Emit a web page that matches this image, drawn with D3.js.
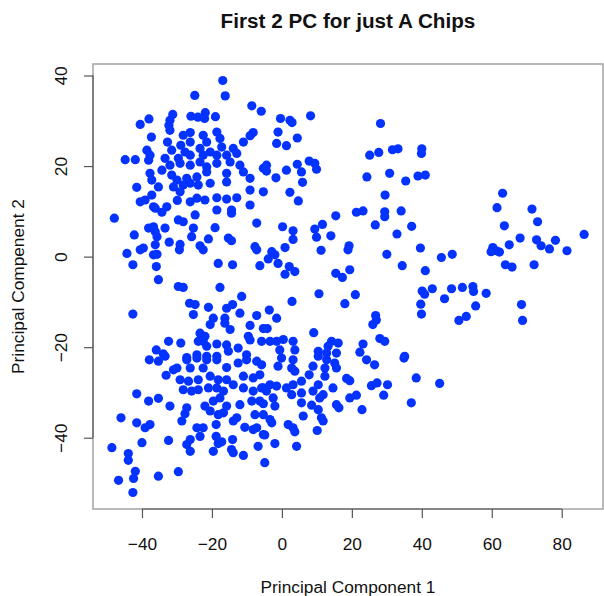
<!DOCTYPE html>
<html>
<head>
<meta charset="utf-8">
<script src="https://cdn.jsdelivr.net/npm/d3@7"></script>
<style>
  html, body { margin: 0; padding: 0; background: #fff; }
  svg { display: block; }
  text { font-family: "Liberation Sans", Arial, Helvetica, sans-serif; fill: #111; }
</style>
</head>
<body>
<svg id="chart" width="604" height="596"></svg>
<script>
// Scores on the first two principal components, one entry per A chip
const pc1 = [
  -16.9,-24.9,-16.2,-8.6,-5.9,-40.5,-38.0,-31.2,-32.0,-32.3,
  -26.0,-24.0,-21.9,-22.1,-19.0,-37.3,-32.0,-28.2,-26.2,-22.5,
  -18.6,-17.7,-8.2,-9.1,-11.0,-32.7,-28.9,-26.2,-21.5,-38.6,
  -31.5,-27.7,-23.4,-20.5,-17.2,-13.9,-44.8,-41.9,-37.7,-38.1,
  -33.4,-29.6,-26.2,-22.5,-18.6,-15.8,-12.9,-34.3,-32.0,-29.1,
  -26.2,-23.4,-21.5,-18.6,-14.8,-12.0,-5.3,-37.7,-31.5,-30.0,
  -27.2,-24.3,-21.5,-15.8,-11.0,-9.1,-37.2,-35.3,-31.0,-28.2,
  -26.2,-23.9,-20.5,-15.8,-41.5,-29.1,-9.1,-5.3,-40.5,-37.2,
  -39.1,-29.9,-26.2,-24.3,-22.0,-18.6,-15.8,-12.9,-9.1,-36.7,
  -32.9,
  -47.9,-36.2,-34.3,-18.6,-14.4,-14.4,-24.8,-29.6,-28.2,-7.2,
  -38.1,-36.7,-36.2,-33.4,-25.3,-19.1,-42.2,-35.7,-25.8,-21.0,
  -15.3,-14.4,-32.2,-29.1,-29.3,-36.2,-23.4,-22.5,-39.6,-40.5,
  -44.3,-36.7,-35.7,-7.7,-7.2,-42.6,-35.9,-18.2,-14.1,-6.3,
  -35.3,-29.6,-28.2,-17.7,-11.5,-26.4,-24.8,-21.0,-15.8,-14.1,
  -42.6,-25.3,-19.6,-16.3,-12.0,-7.2,-20.5,-16.3,-14.8,-9.1,
  -5.3,-9.6,-9.1,-5.8,-32.4,-28.9,-23.4,-22.0,-23.9,-22.5,
  -21.5,-18.6,-15.8,-12.5,-35.9,-33.9,-27.2,-24.3,-21.5,-18.6,
  -15.3,-10.1,
  -37.9,-35.3,-33.4,-30.0,-31.0,-27.2,-24.3,-21.5,-18.6,-26.2,
  -22.5,-15.8,-12.5,-10.1,-7.2,-33.1,-29.1,-26.7,-23.9,-20.5,
  -18.2,-15.8,-11.0,-8.2,-6.3,-28.2,-25.8,-23.9,-21.0,-18.6,
  -16.7,-13.9,-11.0,-8.2,-5.8,-41.5,-38.1,-35.3,-32.0,-27.2,
  -22.0,-19.6,-17.7,-15.8,-12.0,-8.6,-6.3,-27.7,-20.5,-18.2,
  -16.7,-12.9,-7.7,-46.0,-41.5,-37.7,-39.1,-28.6,-18.8,-13.9,
  -10.6,-8.2,-7.2,-24.3,-22.5,-5.3,-23.4,-18.8,-26.2,-17.2,
  -14.1,-48.6,-40.0,-32.4,-27.2,-26.2,-19.6,-18.2,-14.4,-13.9,
  -11.0,-6.8,-4.9,-43.9,-43.9,-41.9,-42.4,-46.7,-42.6,-35.3,
  -29.6,
  -0.4,2.3,2.9,8.2,-1.1,4.4,-1.5,1.3,-4.4,-4.4,
  -1.7,1.3,4.4,5.6,5.9,7.8,9.4,9.9,2.3,4.7,
  28.2,25.1,27.7,31.6,33.2,40.0,39.9,30.8,24.3,35.4,
  38.9,41.0,29.5,
  15.4,21.3,23.2,29.4,29.4,34.1,26.7,32.9,37.1,0.2,
  3.2,3.2,9.4,11.6,9.9,14.0,19.2,18.9,0.9,-2.9,
  -2.0,-3.9,-1.1,2.1,3.7,0.9,11.2,30.0,39.6,34.4,
  41.0,15.4,17.3,19.4,10.6,21.0,18.0,2.9,40.1,40.8,
  43.0,39.7,39.9,-3.6,-1.5,-4.2,26.8,27.0,26.0,9.1,
  28.0,29.4,23.2,22.3,35.1,-3.4,-1.5,0.4,-0.6,3.2,
  3.7,10.4,13.2,14.2,16.1,12.8,15.6,
  -5.8,-1.1,-0.1,3.2,2.8,3.7,8.9,10.4,12.8,12.3,
  15.1,15.6,24.2,26.5,34.9,7.8,12.3,18.5,19.4,25.6,
  27.2,30.2,38.4,-5.3,-3.4,-1.5,1.3,3.2,5.6,-4.4,
  -2.5,2.8,5.6,8.9,10.4,11.8,10.8,14.6,19.4,21.3,
  29.1,37.0,-5.3,-2.0,5.6,8.5,10.4,15.6,16.3,22.9,
  -5.3,-3.4,-2.9,6.1,11.3,11.8,1.8,3.2,3.7,10.1,
  -4.9,-2.0,4.2,45.1,
  61.5,71.5,63.6,73.1,86.4,68.1,65.0,60.3,59.8,61.3,
  62.2,72.8,74.1,76.5,78.2,81.5,63.9,65.8,72.1,45.6,
  48.7,46.5,48.5,51.6,54.6,54.8,58.4,55.4,52.7,50.6,
  68.5,68.8,63.1
];

const pc2 = [
  38.9,35.6,35.5,33.3,32.1,29.2,30.4,31.4,30.1,29.0,
  31.0,30.8,31.8,30.5,30.9,26.4,27.9,26.8,27.4,26.8,
  27.5,26.1,27.4,26.7,25.3,25.3,24.6,25.3,25.3,23.5,
  23.5,23.1,23.9,23.1,24.2,23.9,21.4,21.4,22.4,21.3,
  21.7,21.7,22.4,22.4,22.4,22.4,22.8,19.1,20.2,20.6,
  20.2,20.9,19.8,20.6,20.9,20.2,19.5,18.4,18.0,16.9,
  17.3,17.6,18.7,18.4,18.7,17.3,16.9,15.4,15.4,15.8,
  16.2,15.8,16.2,16.5,15.3,14.3,14.7,14.3,12.1,13.6,
  12.5,12.4,12.1,12.9,12.5,13.0,12.7,13.0,11.4,11.0,
  11.0,
  8.5,10.7,9.8,10.3,10.3,9.6,9.2,8.1,7.7,7.4,
  6.3,6.6,5.5,6.3,6.3,6.4,4.8,4.4,4.4,3.9,
  4.1,3.5,3.2,2.7,1.5,2.6,2.4,1.5,1.9,1.5,
  0.7,0.4,0.5,2.2,1.5,-1.8,-2.2,-1.5,-1.8,-2.0,
  -5.1,-6.6,-6.8,-6.8,-8.8,-10.3,-10.6,-11.2,-11.4,-10.6,
  -12.7,-12.8,-13.6,-13.6,-12.5,-13.0,-15.0,-14.7,-16.1,-15.2,
  -15.9,-17.6,-18.4,-18.7,-18.7,-19.1,-16.9,-17.6,-18.7,-18.7,
  -19.8,-19.3,-19.5,-20.2,-20.6,-21.5,-22.3,-21.7,-22.0,-22.0,
  -20.9,-21.7,
  -22.8,-23.1,-22.0,-24.6,-25.0,-22.8,-22.4,-22.8,-22.8,-24.6,
  -24.6,-24.5,-23.5,-22.8,-23.1,-26.2,-27.2,-27.5,-27.2,-26.4,
  -27.2,-27.2,-26.4,-26.8,-26.1,-29.4,-29.7,-29.4,-29.0,-29.0,
  -29.7,-28.3,-29.0,-29.7,-29.0,-30.3,-31.9,-31.3,-33.0,-33.4,
  -33.0,-31.9,-31.2,-33.0,-32.7,-31.9,-31.9,-34.7,-34.1,-34.9,
  -34.5,-35.6,-34.9,-35.6,-36.7,-37.1,-37.8,-36.3,-37.1,-36.3,
  -37.7,-38.2,-37.8,-37.8,-37.8,-39.3,-39.7,-39.7,-40.4,-40.9,
  -40.4,-42.2,-41.1,-40.6,-41.5,-43.0,-43.0,-41.3,-42.6,-43.3,
  -43.9,-41.9,-45.5,-43.5,-45.0,-47.4,-49.0,-49.4,-52.1,-48.5,
  -47.5,
  30.5,30.1,29.6,31.1,27.5,26.2,25.0,24.5,20.2,18.9,
  17.4,19.1,20.4,18.7,16.4,21.1,20.6,19.3,14.2,12.3,
  29.4,22.4,23.0,23.6,23.8,23.8,22.8,18.4,17.6,16.7,
  17.8,18.0,13.6,
  9.0,9.8,10.1,9.9,8.8,10.1,7.0,5.0,6.7,6.6,
  5.7,3.8,6.1,7.1,4.3,4.6,2.4,1.5,2.0,1.1,
  0.4,-0.5,-1.5,-2.2,-3.3,-3.9,1.4,0.5,1.9,-2.0,
  -3.1,-3.7,-4.6,-2.9,-8.2,-8.4,-10.4,-9.9,-7.6,-8.3,
  -7.1,-10.5,-12.7,-11.8,-13.6,-15.9,-13.0,-14.0,-15.0,-16.8,
  -18.1,-18.7,-19.3,-21.1,-22.0,-18.7,-18.7,-18.3,-20.6,-18.7,
  -20.6,-20.9,-19.8,-18.7,-19.1,-21.3,-21.3,
  -23.9,-24.2,-22.4,-22.8,-24.6,-25.3,-24.2,-22.0,-22.8,-24.6,
  -23.5,-24.6,-22.8,-23.9,-22.4,-26.1,-26.4,-26.9,-27.4,-28.5,
  -27.9,-28.3,-26.8,-29.0,-28.3,-28.6,-29.0,-28.3,-27.5,-29.7,
  -31.2,-30.5,-30.1,-29.7,-28.3,-30.5,-31.2,-29.0,-31.2,-30.6,
  -30.6,-32.3,-32.5,-33.0,-32.3,-32.8,-33.8,-32.7,-33.4,-33.8,
  -34.9,-36.0,-36.7,-35.2,-35.6,-36.3,-37.1,-37.8,-38.7,-38.4,
  -39.4,-41.3,-41.9,-28.0,
  10.8,10.5,6.8,7.7,4.9,4.1,2.6,2.0,1.1,1.3,
  1.0,3.7,2.4,1.7,3.6,1.3,-1.8,-2.3,-1.8,-0.2,
  0.5,-9.3,-7.1,-6.8,-6.6,-7.7,-8.1,-10.9,-13.2,-14.1,
  -10.6,-14.1,14.0
];

const xTicks = [-40, -20, 0, 20, 40, 60, 80];
const yTicks = [-40, -20, 0, 20, 40];

const titleText = "First 2 PC for just A Chips";
const xLabel = "Principal Component 1";
const yLabel = "Principal Compenent 2";

// Plot region
const plot = { left: 93, right: 603, top: 64, bottom: 509 };
const axisFont = 17.3;

const svg = d3.select("#chart");

// Data range padded by 4% on each side, as base graphics does
function padded(vals) {
  const [lo, hi] = d3.extent(vals);
  const p = (hi - lo) * 0.04;
  return [lo - p, hi + p];
}

const x = d3.scaleLinear().domain(padded(pc1)).range([plot.left, plot.right]);
const y = d3.scaleLinear().domain(padded(pc2)).range([plot.bottom, plot.top]);

const pts = d3.zip(pc1, pc2);

// Points
svg.append("g")
  .selectAll("circle")
  .data(pts)
  .join("circle")
  .attr("cx", d => x(d[0]))
  .attr("cy", d => y(d[1]))
  .attr("r", 4.6)
  .attr("fill", "#0433ff");

// Box around the plot region
svg.append("rect")
  .attr("x", plot.left)
  .attr("y", plot.top)
  .attr("width", plot.right - plot.left)
  .attr("height", plot.bottom - plot.top)
  .attr("fill", "none")
  .attr("stroke", "#a3a3a3")
  .attr("stroke-width", 1.5);

const fmt = d3.format("d");

// Bottom axis
const gx = svg.append("g")
  .attr("transform", `translate(0,${plot.bottom})`)
  .call(d3.axisBottom(x).tickValues(xTicks).tickSize(9).tickFormat(fmt));
gx.select(".domain").remove();
gx.append("line")
  .attr("x1", x(xTicks[0])).attr("x2", x(xTicks[xTicks.length - 1]))
  .attr("stroke", "#555").attr("stroke-width", 1.2);
gx.selectAll(".tick line").attr("stroke", "#555").attr("stroke-width", 1.2);
gx.selectAll(".tick text")
  .attr("y", 41).attr("dy", null)
  .style("font-size", axisFont + "px")
  .style("font-family", "'Liberation Sans', Arial, Helvetica, sans-serif")
  .attr("fill", "#111");

// Left axis with labels running parallel to the axis
const gy = svg.append("g")
  .attr("transform", `translate(${plot.left},0)`)
  .call(d3.axisLeft(y).tickValues(yTicks).tickSize(9).tickFormat(fmt));
gy.select(".domain").remove();
gy.append("line")
  .attr("y1", y(yTicks[0])).attr("y2", y(yTicks[yTicks.length - 1]))
  .attr("stroke", "#555").attr("stroke-width", 1.2);
gy.selectAll(".tick line").attr("stroke", "#555").attr("stroke-width", 1.2);
gy.selectAll(".tick text")
  .attr("x", null).attr("dy", null)
  .attr("text-anchor", "middle")
  .attr("transform", "translate(-26,0) rotate(-90)")
  .style("font-size", axisFont + "px")
  .style("font-family", "'Liberation Sans', Arial, Helvetica, sans-serif")
  .attr("fill", "#111");

const cx = (plot.left + plot.right) / 2;
const cy = (plot.top + plot.bottom) / 2;

// Title
svg.append("text")
  .attr("x", cx).attr("y", 27.5)
  .attr("text-anchor", "middle")
  .style("font-size", "20.7px")
  .style("font-weight", "bold")
  .text(titleText);

// Axis titles
svg.append("text")
  .attr("x", cx).attr("y", 593)
  .attr("text-anchor", "middle")
  .style("font-size", axisFont + "px")
  .text(xLabel);

svg.append("text")
  .attr("transform", `translate(24,${cy}) rotate(-90)`)
  .attr("text-anchor", "middle")
  .style("font-size", axisFont + "px")
  .text(yLabel);
</script>
</body>
</html>
